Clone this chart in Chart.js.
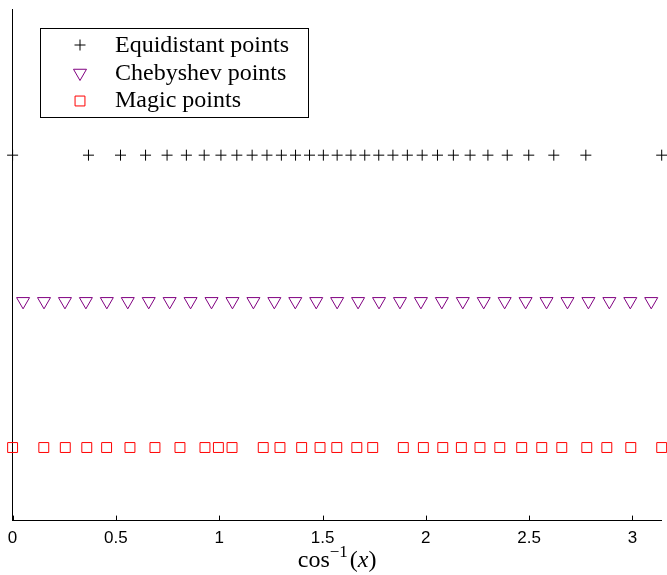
<!DOCTYPE html>
<html>
<head>
<meta charset="utf-8">
<script src="https://cdn.jsdelivr.net/npm/chart.js@4.4.1/dist/chart.umd.min.js"></script>
<style>
  html, body { margin: 0; padding: 0; background: #fff; }
</style>
</head>
<body>
<canvas id="nodesChart" width="667" height="575"></canvas>
<script>
// node locations, given as theta = acos(x) on [0, pi]
var equidistantTheta = [0, 0.3672, 0.5223, 0.6435, 0.7476, 0.8411, 0.9273, 1.0083, 1.0852, 1.1593,
  1.2310, 1.3009, 1.3694, 1.4371, 1.5041, 1.5708, 1.6375, 1.7045, 1.7722, 1.8407,
  1.9106, 1.9823, 2.0564, 2.1333, 2.2143, 2.3005, 2.3940, 2.4981, 2.6193, 2.7744, 3.1416];
var chebyshevTheta = [0.0507, 0.1520, 0.2534, 0.3547, 0.4561, 0.5574, 0.6588, 0.7601, 0.8614, 0.9628,
  1.0641, 1.1655, 1.2668, 1.3682, 1.4695, 1.5708, 1.6721, 1.7735, 1.8748, 1.9762,
  2.0775, 2.1789, 2.2802, 2.3815, 2.4829, 2.5842, 2.6856, 2.7869, 2.8883, 2.9896, 3.0909];
var magicTheta = [0, 0.151, 0.255, 0.359, 0.455, 0.568, 0.689, 0.810, 0.931, 0.996,
  1.062, 1.213, 1.294, 1.399, 1.488, 1.569, 1.666, 1.743, 1.891, 1.988,
  2.082, 2.172, 2.262, 2.358, 2.464, 2.561, 2.658, 2.779, 2.876, 2.992, 3.1416];

var seriesNames = ["Equidistant points", "Chebyshev points", "Magic points"];
var rowLevel = [3, 2, 1];
var xTicks = [0, 0.5, 1, 1.5, 2, 2.5, 3];

function toPoints(thetas, level) {
  return thetas.map(function (t) { return { x: t, y: level }; });
}

var markerStyles = [
  { pointStyle: "cross", radius: 5.5, rotation: 0, color: "#000000" },
  { pointStyle: "triangle", radius: 7.5, rotation: 180, color: "#800080" },
  { pointStyle: "rect", radius: 7, rotation: 0, color: "#ff0000" }
];

var allThetas = [equidistantTheta, chebyshevTheta, magicTheta];
var datasets = allThetas.map(function (thetas, i) {
  var m = markerStyles[i];
  return {
    label: seriesNames[i],
    data: toPoints(thetas, rowLevel[i]),
    showLine: false,
    pointStyle: m.pointStyle,
    pointRadius: m.radius,
    pointHoverRadius: m.radius,
    pointRotation: m.rotation,
    pointBorderWidth: 1,
    pointBorderColor: m.color,
    pointBackgroundColor: "rgba(0,0,0,0)",
    clip: false
  };
});

// small ticks pointing into the plot, like the old matlab style
var inwardTicks = {
  id: "inwardTicks",
  afterDraw: function (chart) {
    var ctx = chart.ctx, xs = chart.scales.x, bottom = chart.chartArea.bottom;
    ctx.save();
    ctx.strokeStyle = "#000";
    ctx.lineWidth = 1;
    xTicks.forEach(function (v) {
      var px = Math.round(xs.getPixelForValue(v)) + 0.5;
      ctx.beginPath();
      ctx.moveTo(px, bottom);
      ctx.lineTo(px, bottom - 5);
      ctx.stroke();
    });
    ctx.restore();
  }
};

// boxed legend in the upper left corner
var boxLegend = {
  id: "boxLegend",
  afterDraw: function (chart) {
    var ctx = chart.ctx;
    var rowY = [45, 73, 101];
    ctx.save();
    ctx.fillStyle = "#fff";
    ctx.fillRect(40.5, 28.5, 268, 89);
    ctx.strokeStyle = "#000";
    ctx.lineWidth = 1;
    ctx.strokeRect(40.5, 28.5, 268, 89);
    markerStyles.forEach(function (m, i) {
      ctx.strokeStyle = m.color;
      ctx.fillStyle = "rgba(0,0,0,0)";
      ctx.lineWidth = 1;
      Chart.helpers.drawPoint(ctx, {
        pointStyle: m.pointStyle, radius: m.radius, rotation: m.rotation, borderWidth: 1
      }, 80, rowY[i]);
    });
    ctx.fillStyle = "#000";
    ctx.font = "24px 'Liberation Serif'";
    ctx.textBaseline = "alphabetic";
    var baseY = [52, 79.5, 107];
    seriesNames.forEach(function (name, i) {
      ctx.fillText(name, 115, baseY[i]);
    });
    ctx.restore();
  }
};

// x axis title: cos^-1(x), with a raised exponent and an italic x
var axisTitle = {
  id: "axisTitle",
  afterDraw: function (chart) {
    var ctx = chart.ctx, area = chart.chartArea;
    var base = 567;
    var parts = [
      { t: "cos", f: "24px 'Liberation Serif'", dy: 0 },
      { t: "\u22121", f: "17px 'Liberation Serif'", dy: -10 },
      { t: "(", f: "24px 'Liberation Serif'", dy: 0 },
      { t: "x", f: "italic 24px 'Liberation Serif'", dy: 0 },
      { t: ")", f: "24px 'Liberation Serif'", dy: 0 }
    ];
    ctx.save();
    var total = 0;
    parts.forEach(function (p) { ctx.font = p.f; p.w = ctx.measureText(p.t).width; total += p.w; });
    total += 2;
    var x = (area.left + area.right) / 2 - total / 2;
    ctx.fillStyle = "#000";
    ctx.textBaseline = "alphabetic";
    parts.forEach(function (p, i) {
      ctx.font = p.f;
      ctx.fillText(p.t, x, base + p.dy);
      x += p.w + (i === 1 ? 2 : 0);
    });
    ctx.restore();
  }
};

var ctx = document.getElementById("nodesChart");
var chart = new Chart(ctx, {
  type: "scatter",
  data: { datasets: datasets },
  options: {
    responsive: false,
    devicePixelRatio: 1,
    animation: false,
    events: [],
    layout: { autoPadding: false, padding: { left: 12.6, right: 5.3, top: 9, bottom: 18 } },
    plugins: {
      legend: { display: false },
      tooltip: { enabled: false }
    },
    scales: {
      x: {
        type: "linear",
        min: 0,
        max: Math.PI,
        afterBuildTicks: function (scale) {
          scale.ticks = xTicks.map(function (v) { return { value: v }; });
        },
        afterFit: function (scale) {
          scale.paddingLeft = 0;
          scale.paddingRight = 0;
        },
        ticks: {
          color: "#000",
          padding: 8,
          maxRotation: 0,
          autoSkip: false,
          font: { family: "'Liberation Sans', Arial, sans-serif", size: 17 },
          callback: function (v) { return String(v); }
        },
        grid: { display: false, drawTicks: false },
        border: { display: true, color: "#000", width: 1 }
      },
      y: {
        type: "linear",
        min: 0.5,
        max: 4,
        ticks: { display: false },
        grid: { display: false, drawTicks: false },
        border: { display: true, color: "#000", width: 1 },
        afterFit: function (scale) { scale.width = 0; }
      }
    }
  },
  plugins: [inwardTicks, boxLegend, axisTitle]
});
</script>
</body>
</html>
